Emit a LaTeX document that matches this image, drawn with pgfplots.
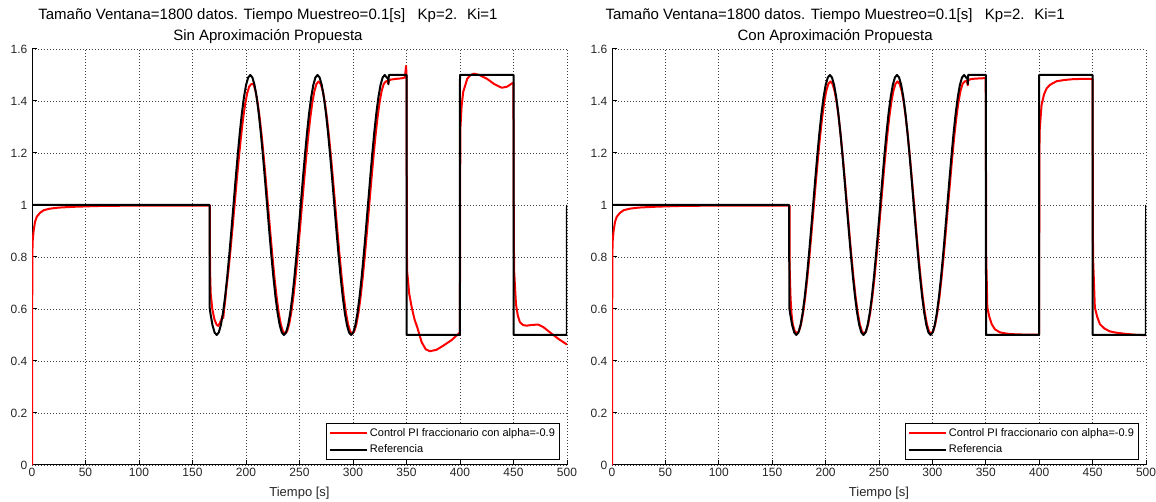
\documentclass[border=0pt]{standalone}
\usepackage{fontspec}
\setmainfont{Liberation Sans}
\usepackage{pgfplots}
\usepackage{pgfplotstable}
\pgfplotsset{compat=1.18}

\pgfplotstableread{
t y
0 1
165.9 1
166.0 0.606
166.71 0.5843
168.67 0.5381
170.64 0.5096
172.60 0.5
174.56 0.5096
176.53 0.5381
178.49 0.5843
180.45 0.6464
182.42 0.7222
184.38 0.8087
186.34 0.9025
188.31 1.0
190.27 1.0975
192.24 1.1913
194.20 1.2778
196.16 1.3536
198.13 1.4157
200.09 1.4619
202.05 1.4904
204.02 1.5
205.98 1.4904
207.94 1.4619
209.91 1.4157
211.87 1.3536
213.83 1.2778
215.80 1.1913
217.76 1.0975
219.72 1.0
221.69 0.9025
223.65 0.8087
225.61 0.7222
227.58 0.6464
229.54 0.5843
231.50 0.5381
233.47 0.5096
235.43 0.5
237.40 0.5096
239.36 0.5381
241.32 0.5843
243.29 0.6464
245.25 0.7222
247.21 0.8087
249.18 0.9025
251.14 1.0
253.10 1.0975
255.07 1.1913
257.03 1.2778
258.99 1.3536
260.96 1.4157
262.92 1.4619
264.88 1.4904
266.85 1.5
268.81 1.4904
270.78 1.4619
272.74 1.4157
274.70 1.3536
276.67 1.2778
278.63 1.1913
280.59 1.0975
282.56 1.0
284.52 0.9025
286.48 0.8087
288.45 0.7222
290.41 0.6464
292.37 0.5843
294.34 0.5381
296.30 0.5096
298.26 0.5
300.23 0.5096
302.19 0.5381
304.15 0.5843
306.12 0.6464
308.08 0.7222
310.05 0.8087
312.01 0.9025
313.97 1.0
315.94 1.0975
317.90 1.1913
319.86 1.2778
321.83 1.3536
323.79 1.4157
325.75 1.4619
327.72 1.4904
329.68 1.5
331.6 1.49
332.9 1.485
333.1 1.465
333.5 1.5
350.1 1.5
350.2 0.5
399.9 0.5
400.0 1.5
450.0 1.5
450.1 0.5
499.9 0.5
500 1.0
}\refdata

\pgfplotstableread{
t y
0 0
0.1 0.37
0.3 0.80
0.6 0.86
1.5 0.90
2.8 0.935
4.5 0.955
7.5 0.970
11 0.980
16.8 0.986
25 0.990
38.6 0.993
60 0.996
100 0.998
166.2 0.998
166.4 0.75
167.0 0.66
168.5 0.60
170.5 0.56
172.5 0.54
174.0 0.535
175.5 0.545
177.0 0.56
178.2 0.575
178.8 0.565
179.3 0.59
180.5 0.63
181.45 0.6712
183.42 0.7417
185.38 0.8221
187.34 0.9093
189.31 1.0
191.27 1.0907
193.24 1.1779
195.20 1.2583
197.16 1.3288
199.13 1.3866
201.09 1.4296
203.05 1.4561
205.02 1.465
206.98 1.4657
208.94 1.4381
210.91 1.3933
212.87 1.3329
214.83 1.2595
216.80 1.1756
218.76 1.0846
220.72 0.99
222.69 0.8954
224.65 0.8044
226.61 0.7205
228.58 0.6471
230.54 0.5867
232.50 0.5419
234.47 0.5143
236.43 0.505
238.40 0.5143
240.36 0.5419
242.32 0.5867
244.29 0.6471
246.25 0.7205
248.21 0.8044
250.18 0.8954
252.14 0.99
254.10 1.0846
256.07 1.1756
258.03 1.2595
259.99 1.3329
261.96 1.3933
263.92 1.4381
265.88 1.4657
267.85 1.475
269.81 1.4657
271.78 1.4381
273.74 1.3933
275.70 1.3329
277.67 1.2595
279.63 1.1756
281.59 1.0846
283.56 0.99
285.52 0.8954
287.48 0.8044
289.45 0.7205
291.41 0.6471
293.37 0.5867
295.34 0.5419
297.30 0.5143
299.26 0.505
301.23 0.5143
303.19 0.5419
305.15 0.5867
307.12 0.6471
309.08 0.7205
311.05 0.8044
313.01 0.8954
314.97 0.99
316.94 1.0846
318.90 1.1756
320.86 1.2595
322.83 1.3329
324.79 1.3933
326.75 1.4381
328.72 1.4657
330.68 1.475
332.6 1.478
333.0 1.465
333.5 1.478
335 1.482
340 1.485
345 1.487
348.5 1.49
349.2 1.52
349.6 1.535
350.0 1.50
350.3 1.0
350.5 0.75
352.5 0.66
354.9 0.606
357.5 0.56
360.1 0.529
364.2 0.472
368 0.445
371.9 0.4376
378 0.443
384.4 0.459
392 0.48
398.4 0.504
399.9 0.51
400.3 1.29
401.5 1.38
403 1.435
406.8 1.486
410 1.50
413 1.505
418 1.500
425 1.486
432 1.465
439 1.451
444 1.455
448.3 1.467
449.9 1.47
450.3 0.9
450.6 0.746
452.3 0.619
454 0.575
456 0.549
459 0.538
462.3 0.536
468 0.539
473.2 0.540
478 0.530
484.1 0.510
492 0.485
500 0.463
}\redleft

\pgfplotstableread{
t y
0 0
0.1 0.37
0.3 0.80
0.6 0.86
1.5 0.90
2.8 0.935
4.5 0.955
7.5 0.970
11 0.980
16.8 0.986
25 0.990
38.6 0.993
60 0.996
100 0.998
166.2 0.998
166.4 0.75
167.2 0.64
168.0 0.585
169.17 0.5419
171.14 0.5143
173.10 0.508
175.06 0.5143
177.03 0.5419
178.99 0.5867
180.95 0.6471
182.92 0.7205
184.88 0.8044
186.84 0.8954
188.81 0.99
190.77 1.0846
192.74 1.1756
194.70 1.2595
196.66 1.3329
198.63 1.3933
200.59 1.4381
202.55 1.4657
204.52 1.475
206.48 1.4657
208.44 1.4381
210.41 1.3933
212.37 1.3329
214.33 1.2595
216.30 1.1756
218.26 1.0846
220.22 0.99
222.19 0.8954
224.15 0.8044
226.11 0.7205
228.08 0.6471
230.04 0.5867
232.00 0.5419
233.97 0.5143
235.93 0.505
237.90 0.5143
239.86 0.5419
241.82 0.5867
243.79 0.6471
245.75 0.7205
247.71 0.8044
249.68 0.8954
251.64 0.99
253.60 1.0846
255.57 1.1756
257.53 1.2595
259.49 1.3329
261.46 1.3933
263.42 1.4381
265.38 1.4657
267.35 1.475
269.31 1.4657
271.28 1.4381
273.24 1.3933
275.20 1.3329
277.17 1.2595
279.13 1.1756
281.09 1.0846
283.06 0.99
285.02 0.8954
286.98 0.8044
288.95 0.7205
290.91 0.6471
292.87 0.5867
294.84 0.5419
296.80 0.5143
298.76 0.505
300.73 0.5143
302.69 0.5419
304.65 0.5867
306.62 0.6471
308.58 0.7205
310.55 0.8044
312.51 0.8954
314.47 0.99
316.44 1.0846
318.40 1.1756
320.36 1.2595
322.33 1.3329
324.29 1.3933
326.25 1.4381
328.22 1.4657
330.18 1.475
332.5 1.478
333.1 1.46
333.6 1.48
336 1.484
340 1.486
345 1.487
349.9 1.488
350.2 1.1
350.4 0.8
351.4 0.606
353.3 0.57
355.5 0.542
358.5 0.522
363.3 0.51
370 0.505
375.7 0.503
390 0.501
399.8 0.501
400.1 1.0
400.3 1.28
402.2 1.384
404.5 1.425
406.9 1.448
410 1.462
416.3 1.476
424 1.481
431.8 1.484
440 1.485
449.9 1.485
450.2 1.1
450.4 0.8
452.1 0.606
454.3 0.57
456.8 0.542
461 0.525
466.1 0.514
472 0.509
481.7 0.504
490 0.501
500 0.499
}\redright

\pgfplotsset{
  matlabax/.style={
    scale only axis,
    height=312pt,
    xmin=0, xmax=500, ymin=0, ymax=1.6,
    axis lines*=left,
    axis line style={line width=0.75pt, black},
    xtick={0,50,100,150,200,250,300,350,400,450,500},
    ytick={0,0.2,0.4,0.6,0.8,1,1.2,1.4,1.6},
    tick align=inside,
    major tick length=3.75pt,
    tick style={line width=0.75pt, black},
    grid=major,
    grid style={dash pattern=on 0.75pt off 1.5pt, line width=0.6pt, black!75},
    /pgf/number format/assume math mode=true,
    tick label style={font=\fontsize{9}{10}\selectfont, text=black!85},
    xticklabel style={yshift=1pt},
    xlabel={Tiempo [s]},
    xlabel style={at={(0.5,0)}, anchor=base, yshift=-23.5pt, font=\fontsize{9.75}{11}\selectfont, text=black!85},
    title style={anchor=south, yshift=-2.5pt, inner sep=0pt, align=center, font=\fontsize{11.25}{16.4}\selectfont},
    legend style={at={(1,0)}, anchor=south east, xshift=-5.25pt, yshift=3.75pt,
      draw=black, line width=0.6pt, fill=white,
      font=\fontsize{8.25}{9.5}\selectfont, inner xsep=2pt, inner ysep=1.5pt,
      row sep=0pt, nodes={inner ysep=2.3pt, inner xsep=1.5pt}},
    legend cell align=left,
    legend image code/.code={\draw[#1] (0pt,0pt) -- (28pt,0pt);},
  }
}

\begin{document}
\begin{tikzpicture}
\path[use as bounding box] (0,0) rectangle (867pt,376.5pt);
\begin{axis}[matlabax, at={(24pt,27.75pt)}, anchor=south west, width=401.25pt,
  title style={at={(0.441,1)}},
  title={Tamaño Ventana=1800 datos. Tiempo Muestreo=0.1[s] \ \ Kp=2. \ Ki=1\\Sin Aproximación Propuesta}]
\addplot[red, line width=1.5pt, line join=round] table[x=t, y=y] {\redleft};
\addlegendentry{Control PI fraccionario con alpha=-0.9}
\addplot[black, line width=1.5pt, line join=round] table[x=t, y=y] {\refdata};
\addlegendentry{Referencia}
\end{axis}
\begin{axis}[matlabax, at={(459pt,27.75pt)}, anchor=south west, width=400.5pt,
  title style={at={(0.418,1)}},
  title={Tamaño Ventana=1800 datos. Tiempo Muestreo=0.1[s] \ \ Kp=2. \ Ki=1\\Con Aproximación Propuesta}]
\addplot[red, line width=1.5pt, line join=round] table[x=t, y=y] {\redright};
\addlegendentry{Control PI fraccionario con alpha=-0.9}
\addplot[black, line width=1.5pt, line join=round] table[x=t, y=y] {\refdata};
\addlegendentry{Referencia}
\end{axis}
\end{tikzpicture}
\end{document}
